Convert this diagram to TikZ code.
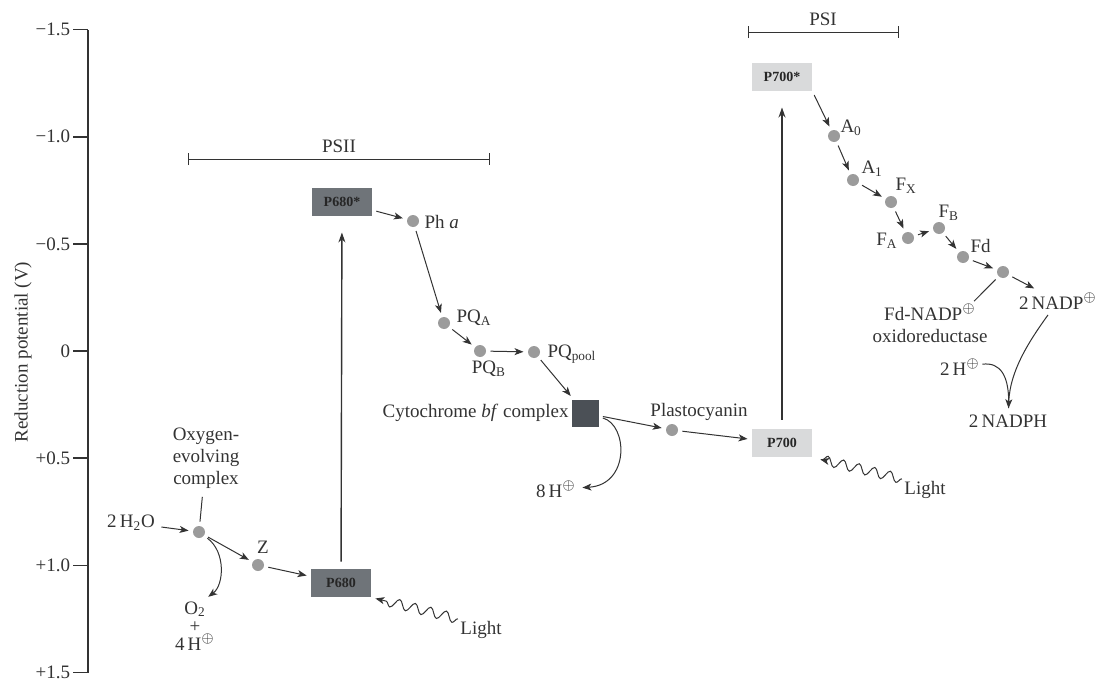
\documentclass[tikz,border=0pt]{standalone}
\usepackage{fontspec}
\setmainfont{Liberation Serif}
\usetikzlibrary{arrows.meta,positioning,decorations.pathmorphing}

\definecolor{ink}{HTML}{333333}
\definecolor{psiibox}{HTML}{6F7479}
\definecolor{psibox}{HTML}{D9DADB}
\definecolor{cytfill}{HTML}{4B5056}
\definecolor{dotfill}{HTML}{9B9B9B}

\tikzset{
  carrier/.style={circle,fill=dotfill,minimum size=6pt,inner sep=0pt},
  pbox/.style={minimum width=30pt,minimum height=14pt,inner sep=0pt,
    font=\fontsize{7}{8}\selectfont\bfseries,text=black!85},
  arr/.style={-{Stealth[length=4.5pt,width=3.5pt,inset=1.2pt]},shorten <=2pt,shorten >=2pt},
  excite/.style={-{Stealth[length=5pt,width=3.5pt]},line width=0.7pt},
  photon/.style={decorate,decoration={snake,segment length=8pt,amplitude=2.4pt,post length=4pt},
    -{Stealth[length=4.5pt,width=3.5pt,inset=1.2pt]}},
  span/.style={{Bar[width=6pt]}-{Bar[width=6pt]}}
}

\begin{document}
\begin{tikzpicture}[x=0.5pt,y=-0.5pt,line width=0.5pt,color=ink,
  every node/.style={font=\fontsize{9.5}{11}\selectfont,text=ink,inner sep=1pt}]
  \useasboundingbox (0,0) rectangle (1104,680);

  % potential axis
  \draw[line width=0.8pt] (88,30) -- (88,673);
  \foreach \v/\t [count=\i] in {-1.5/−1.5,-1.0/−1.0,-0.5/−0.5,0/0,0.5/+0.5,1.0/+1.0,1.5/+1.5}
    \draw[line width=0.8pt] (73,{351+214.3*\v}) -- (88,{351+214.3*\v})
      node[pos=0,anchor=east] (tick\i) {\t};
  \node[rotate=90] (ylabel) at (23,352) {Reduction potential (V)};

  % photosystem spans
  \draw[span] (188,159) -- (490,159);
  \node (psii) at (339,146) {PSII};
  \draw[span] (748,32) -- (899,32);
  \node (psi) at (823,19) {PSI};

  % reaction centres and cytochrome
  \node[pbox,fill=psiibox] (p680s) at (342,202) {P680*};
  \node[pbox,fill=psiibox] (p680) at (341,583) {P680};
  \node[pbox,fill=psibox] (p700s) at (782,77) {P700*};
  \node[pbox,fill=psibox] (p700) at (782,443) {P700};
  \node[fill=cytfill,minimum size=13.5pt,inner sep=0pt] (cyt) at (585,413) {};
  \node[left=0pt of cyt] (cytlbl) {Cytochrome \textit{bf} complex};

  % carriers
  \node[carrier] (oec) at (199,532) {};
  \node[carrier] (z) at (258,565) {};
  \node[carrier] (pha) at (413,221) {};
  \node[carrier] (pqa) at (444,323) {};
  \node[carrier] (pqb) at (480,351) {};
  \node[carrier] (pqp) at (534,352) {};
  \node[carrier] (pc) at (672,430) {};
  \node[carrier] (ao) at (834,136) {};
  \node[carrier] (ai) at (853,180) {};
  \node[carrier] (fx) at (891,202) {};
  \node[carrier] (fa) at (908,238) {};
  \node[carrier] (fb) at (939,228) {};
  \node[carrier] (fd) at (963,257) {};
  \node[carrier] (fnr) at (1003,272) {};

  % labels
  \node[align=center] (oeclbl) at (206,458) {Oxygen-\\evolving\\complex};
  \node (water) at (131,523) {2\,H\textsubscript{2}O};
  \node[align=center,font=\fontsize{9.5}{9}\selectfont] (oxy) at (195,626) {O\textsubscript{2}\\+\\4\,H$^{\oplus}$};
  \node (zlbl) at (263,547) {Z};
  \node[anchor=west] (phalbl) at (422,222) {Ph \textit{a}};
  \node[anchor=west] (pqalbl) at (454,318) {PQ\textsubscript{A}};
  \node (pqblbl) at (489,369) {PQ\textsubscript{B}};
  \node[anchor=west] (pqplbl) at (545,354) {PQ\textsubscript{pool}};
  \node (pclbl) at (699,412) {Plastocyanin};
  \node (h8) at (556,489) {8\,H$^{\oplus}$};
  \node (light1) at (481,630) {Light};
  \node (light2) at (925,490) {Light};
  \node[anchor=west] (aolbl) at (838,128) {A\textsubscript{0}};
  \node[anchor=west] (ailbl) at (859,169) {A\textsubscript{1}};
  \node[anchor=west] (fxlbl) at (893,186) {F\textsubscript{X}};
  \node[anchor=east] (falbl) at (900,241) {F\textsubscript{A}};
  \node[anchor=west] (fblbl) at (936,213) {F\textsubscript{B}};
  \node[anchor=west] (fdlbl) at (968,246) {Fd};
  \node[align=center] (fnrlbl) at (930,323) {Fd-NADP$^{\oplus}$\\oxidoreductase};
  \node (nadp) at (1058,301) {2\,NADP$^{\oplus}$};
  \node (hh) at (960,367) {2\,H$^{\oplus}$};
  \node (nadph) at (1008,421) {2\,NADPH};

  % electron transfer
  \path[arr]
    (water) edge (oec)
    (oec) edge (z)
    (z) edge (p680)
    (p680s) edge (pha)
    (pha) edge (pqa)
    (pqa) edge (pqb)
    (pqb) edge (pqp)
    (pqp) edge (cyt)
    (cyt) edge (pc)
    (pc) edge (p700)
    (p700s.south east) edge (ao)
    (ao) edge (ai)
    (ai) edge (fx)
    (fx) edge (fa)
    (fa) edge (fb)
    (fb) edge (fd)
    (fd) edge (fnr)
    (fnr) edge (nadp);
  \draw[excite,shorten <=3.5pt,shorten >=8pt] (p680) -- (p680s);
  \draw[excite,shorten <=4.5pt,shorten >=8pt] (p700) -- (p700s);

  % by-products
  \draw[arr] (oec) .. controls (226,552) and (224,585) .. ([xshift=5pt]oxy.north);
  \draw[arr] (cyt) .. controls (628,425) and (630,485) .. (h8);
  \draw[arr] (nadp) .. controls (1030,340) and (1010,370) .. (nadph);
  \draw[shorten >=2pt] (hh) .. controls (1000,362) and (1010,375) .. (nadph);
  \draw[shorten <=2pt,shorten >=3pt] (oec) -- (oeclbl);
  \draw[shorten <=2pt] (fnr) -- ([xshift=-8pt]fnrlbl.north east);

  % light
  \draw[photon,shorten >=2pt] (light1.north west) -- (p680.south east);
  \draw[photon,shorten >=4pt] (light2.north west) -- (p700.south east);
\end{tikzpicture}
\end{document}
